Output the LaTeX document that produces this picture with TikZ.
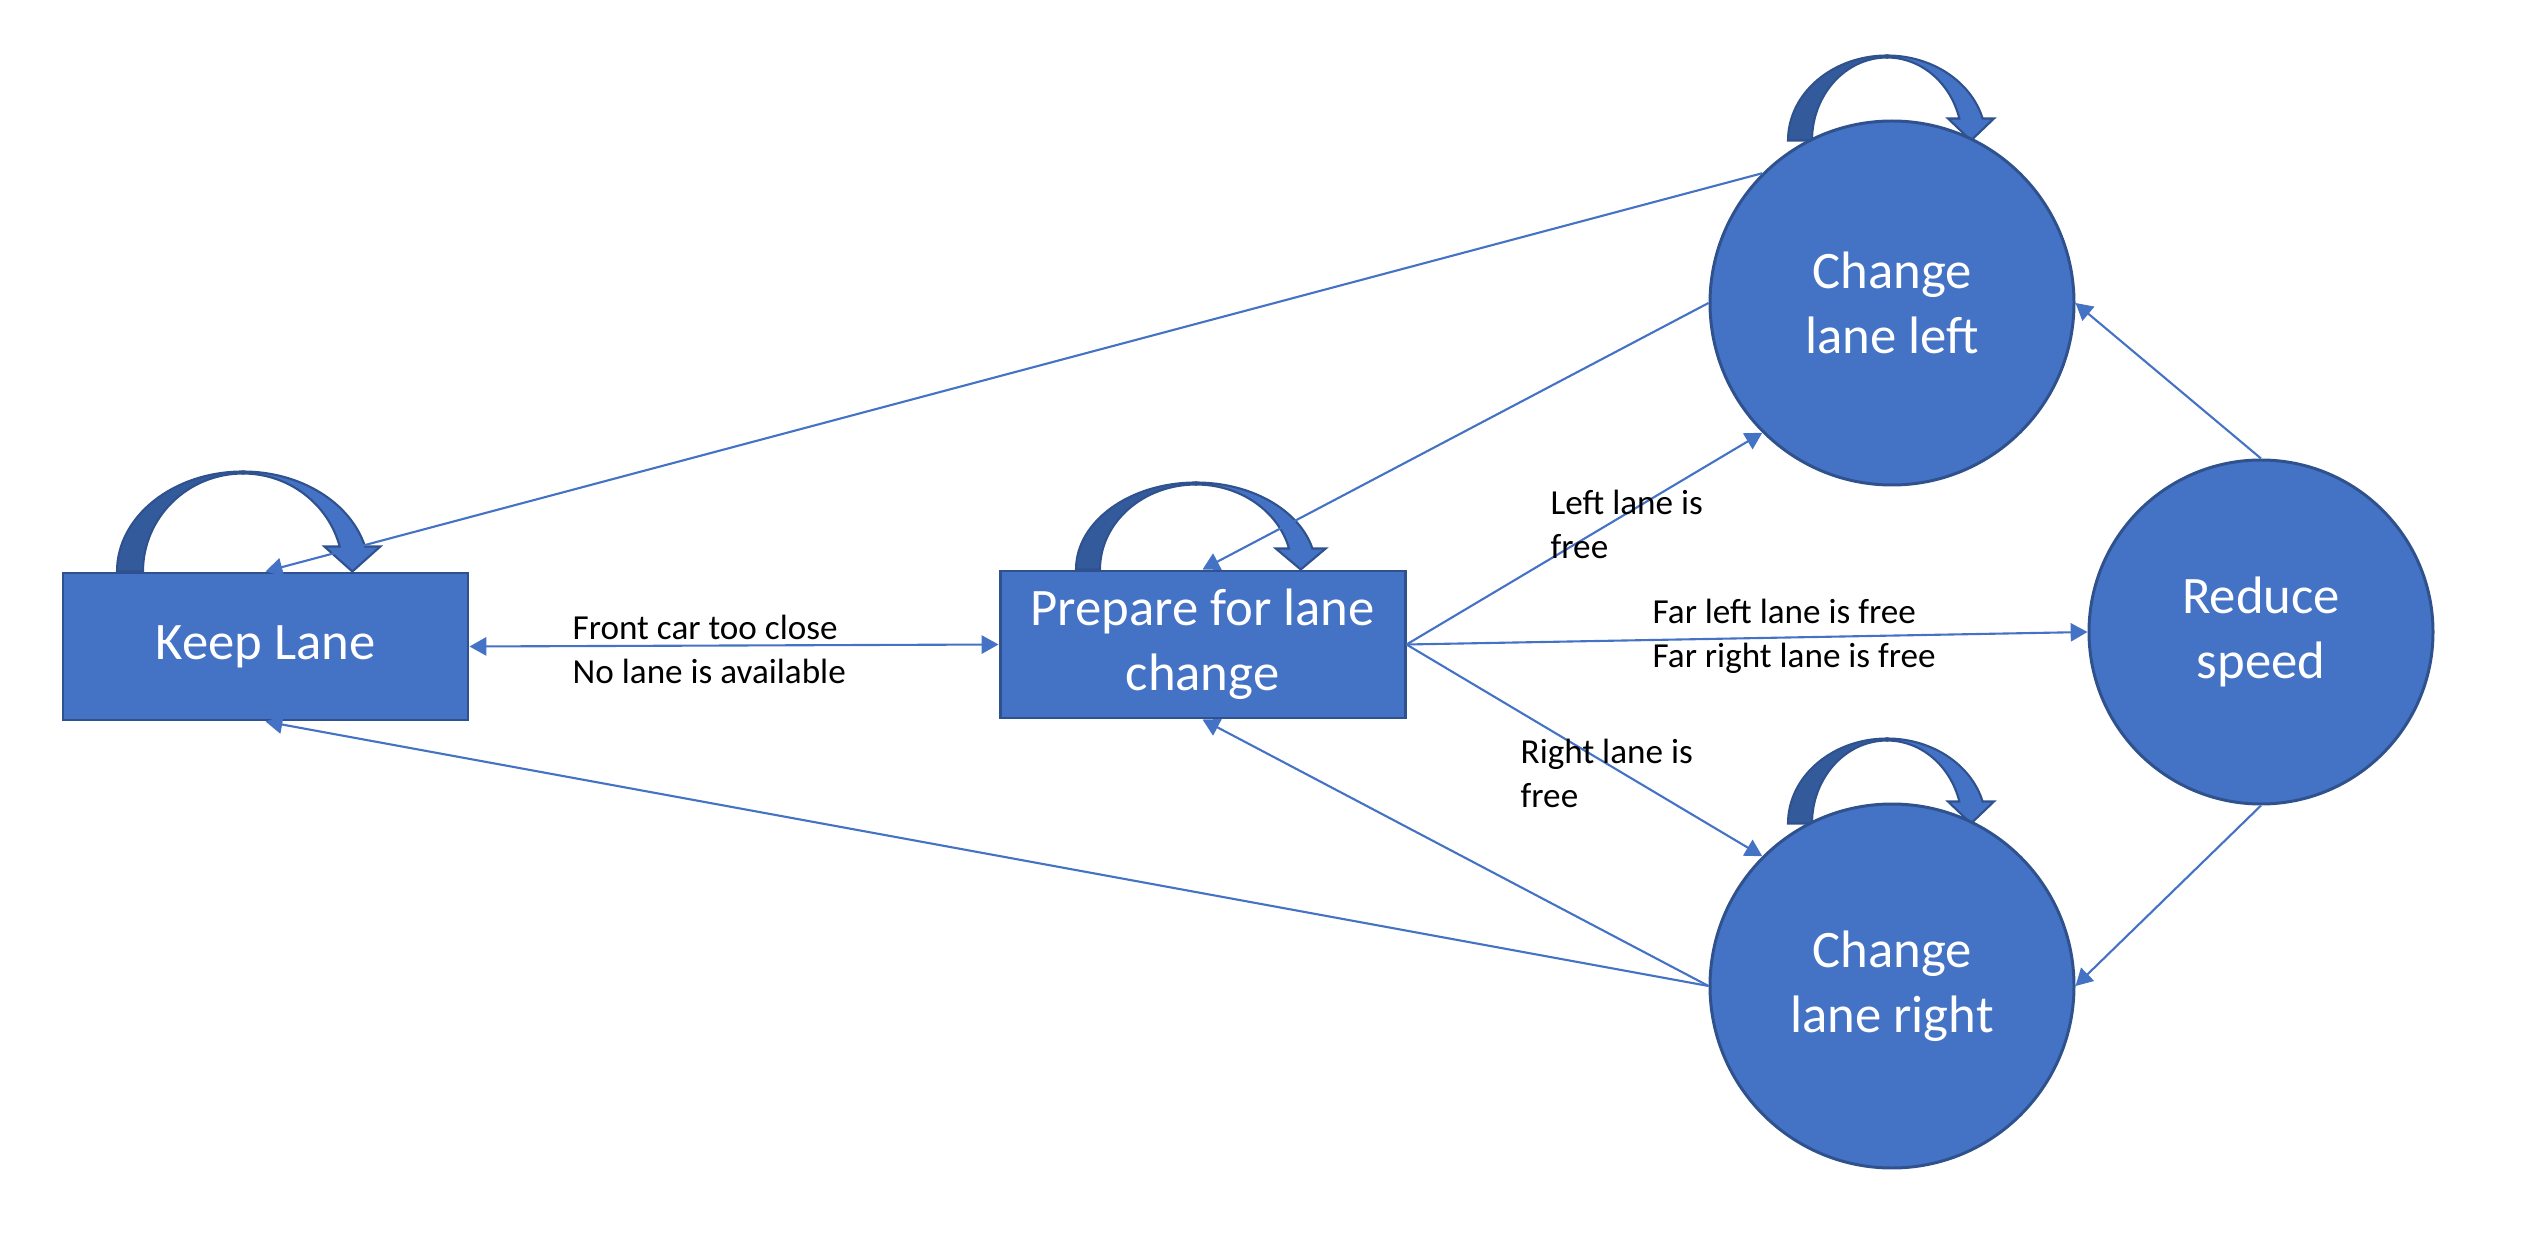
\documentclass[tikz,border=0pt]{standalone}
\usepackage{fontspec}
\setmainfont{Carlito}
\usetikzlibrary{arrows.meta,backgrounds}
\definecolor{stateblue}{HTML}{4472C4}
\definecolor{stateedge}{HTML}{2F528F}
\definecolor{loopdark}{HTML}{335A9B}
% curved self-loop arrow above a state:
% #1 anchor, #2 offset, #3/#4 outer/inner x radius, #5/#6 outer/inner height, #7 head height, #8 head half width
\newcommand{\selfloop}[8]{%
  \pgfmathsetmacro{\outang}{asin(#7/#5)}%
  \pgfmathsetmacro{\inang}{asin(#7/#6)}%
  \pgfmathsetmacro{\headx}{(#3*cos(\outang)+#4*cos(\inang))/2}%
  \begin{pgfonlayer}{background}
  \begin{scope}[shift={(#1)},shift={(#2)}]
    \filldraw[fill=loopdark,draw=stateedge,line width=0.6pt] (-#3,0)
      arc[start angle=180,end angle=90,x radius=#3,y radius=#5]
      -- (0,#6) arc[start angle=90,end angle=180,x radius=#4,y radius=#6] -- cycle;
    \filldraw[fill=stateblue,draw=stateedge,line width=0.6pt] (0,#5)
      arc[start angle=90,end angle=\outang,x radius=#3,y radius=#5]
      -- (\headx+#8,#7) -- (\headx,0) -- (\headx-#8,#7)
      -- ({#4*cos(\inang)},#7) arc[start angle=\inang,end angle=90,x radius=#4,y radius=#6] -- cycle;
  \end{scope}
  \end{pgfonlayer}}

\begin{document}
\begin{tikzpicture}[
  >={Triangle[length=4.8pt,width=5.2pt]},
  state/.style={fill=stateblue,draw=stateedge,line width=0.85pt,text=white,align=center,
    font=\fontsize{15}{18.5}\selectfont},
  box/.style={state,rectangle,minimum width=4.05cm,minimum height=1.47cm},
  disc/.style={state,circle,inner sep=0pt},
  lbl/.style={anchor=north west,align=left,inner sep=0pt,font=\fontsize{10}{12.5}\selectfont},
  link/.style={->,stateblue,line width=0.6pt}]

  \useasboundingbox (0,0) rectangle (25.34,12.55);

  % states
  \node (keep) at (2.655,6.085) [box] {Keep Lane};
  \node (prep) at (12.025,6.105) [box] {Prepare for lane\\change};
  \node (left) at (18.92,9.52) [disc,minimum size=3.64cm] {Change\\lane left};
  \node (right) at (18.92,2.69) [disc,minimum size=3.64cm] {Change\\lane right};
  \node (reduce) at (22.61,6.23) [disc,minimum size=3.44cm] {Reduce\\speed};

  % self loops
  \selfloop{keep.north}{-0.225,0}{1.26}{1.00}{1.00}{0.98}{0.25}{0.28}
  \selfloop{prep.north}{-0.065,0}{1.20}{0.96}{0.87}{0.85}{0.21}{0.25}
  \selfloop{left.north}{-0.05,-0.21}{0.99}{0.75}{0.85}{0.83}{0.22}{0.23}
  \selfloop{right.north}{-0.05,-0.21}{0.99}{0.75}{0.85}{0.83}{0.22}{0.23}

  % transitions
  \draw [link,<->] (keep.east) -- (prep.west);
  \draw [link] (left.135) -- (keep.north);
  \draw [link] (left.west) -- (prep.north);
  \draw [link] (prep.east) -- (left.225);
  \draw [link] (prep.east) -- (reduce.west);
  \draw [link] (prep.east) -- (right.135);
  \draw [link] (right.west) -- (prep.south);
  \draw [link] (right.west) -- (keep.south);
  \draw [link] (reduce.north) -- (left.east);
  \draw [link] (reduce.south) -- (right.east);

  % labels
  \node (closelbl) at (5.72,6.41) [lbl] {Front car too close\\No lane is available};
  \node (leftlbl) at (15.50,7.66) [lbl] {Left lane is\\free};
  \node (farlbl) at (16.52,6.57) [lbl] {Far left lane is free\\Far right lane is free};
  \node (rightlbl) at (15.20,5.17) [lbl] {Right lane is\\free};
\end{tikzpicture}
\end{document}
